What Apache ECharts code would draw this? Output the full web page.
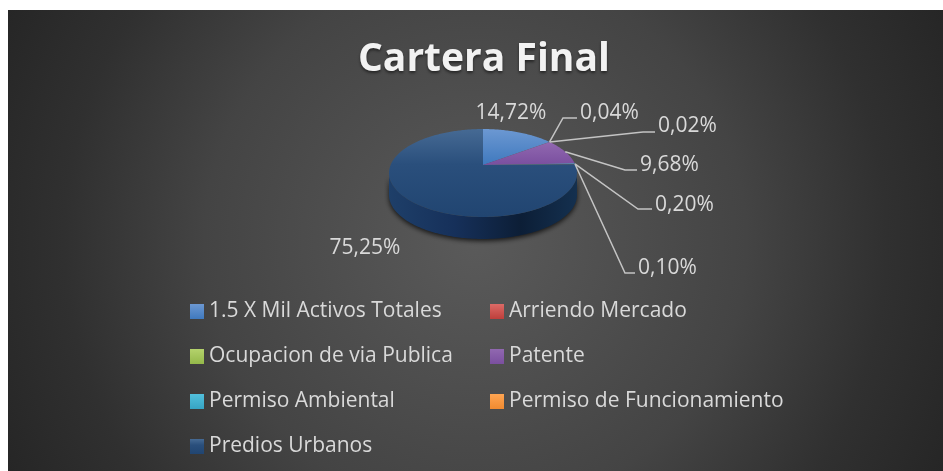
<!DOCTYPE html>
<html>
<head>
<meta charset="utf-8">
<style>
  html, body { margin: 0; padding: 0; background: #fff; }
  #main { width: 943px; height: 471px; }
</style>
<script src="https://cdn.jsdelivr.net/npm/echarts@6/dist/echarts.min.js"></script>
</head>
<body>
<div id="main"></div>
<script>
const names = [
  "1.5 X Mil Activos Totales",
  "Arriendo Mercado",
  "Ocupacion de via Publica",
  "Patente",
  "Permiso Ambiental",
  "Permiso de Funcionamiento",
  "Predios Urbanos",
];
const values = [14.72, 0.04, 0.02, 9.68, 0.2, 0.1, 75.25];

const FONT = "Open Sans";
const LABEL_COLOR = "#d9d9d9";

// pie look: excel style tilted pie, perspective fitted by eye
const pie = { cx: 483, cy: 165, rx: 92.4, ry: 42.5, k: 0.1818, depth: 22 };

// leader line and text placement per slice, no elbow = no leader line
const leaders = [
  { text: [511, 113] },
  { elbow: [563, 118], end: 577, text: [580, 113] },
  { elbow: [643, 132], end: 655, text: [658, 126] },
  { elbow: [625, 170], end: 637, text: [640, 165] },
  { elbow: [638, 209], end: 652, text: [655, 205] },
  { elbow: [625, 273], end: 635, text: [638, 268] },
  { text: [365, 248] },
];

function vGrad(a, b, c) {
  const stops = [{ offset: 0, color: a }, { offset: 1, color: c || b }];
  if (c) stops.splice(1, 0, { offset: 0.4, color: b });
  return new echarts.graphic.LinearGradient(0, 0, 0, 1, stops);
}
const fills = [
  vGrad("#6c98d2", "#3f79be"),
  vGrad("#dc6a66", "#be3f3b"),
  vGrad("#b4d26c", "#94b84a"),
  vGrad("#9168b0", "#7a4f9f"),
  vGrad("#52c0dc", "#36a4c4"),
  vGrad("#ffa552", "#f08a30"),
  vGrad("#466a94", "#2a4f7c", "#214571"),
];
const sideFill = new echarts.graphic.LinearGradient(0, 0, 1, 0, [
  { offset: 0, color: "#1e3f69" },
  { offset: 0.35, color: "#16305a" },
  { offset: 0.7, color: "#0c1e36" },
  { offset: 1, color: "#14304f" },
]);

const total = values.reduce((a, b) => a + b, 0);

// angle is clockwise from 12 o'clock, in degrees
function project(deg, dy) {
  const t = (deg * Math.PI) / 180;
  const u = Math.sin(t);
  const v = Math.cos(t);
  const d = 1 + pie.k * v;
  return [pie.cx + (pie.rx * u) / d, pie.cy - (pie.ry * v) / d + (dy || 0)];
}

function arc(from, to, dy) {
  const pts = [];
  const steps = Math.max(1, Math.ceil(to - from));
  for (let i = 0; i <= steps; i++) {
    pts.push(project(from + ((to - from) * i) / steps, dy));
  }
  return pts;
}

function renderSlice(index) {
  return function (params, api) {
    const value = api.value(0);
    let before = 0;
    for (let i = 0; i < index; i++) before += values[i];
    const from = (before / total) * 360;
    const to = ((before + value) / total) * 360;
    const children = [];

    // only the front part of the rim shows its wall
    const wallFrom = Math.max(from, 100.5);
    const wallTo = Math.min(to, 259.5);
    if (wallTo > wallFrom) {
      children.push({
        type: "polygon",
        z2: 1,
        shape: { points: arc(wallFrom, wallTo, 0).concat(arc(wallFrom, wallTo, pie.depth).reverse()) },
        style: { fill: sideFill, shadowBlur: 5, shadowColor: "rgba(0,0,0,0.75)", shadowOffsetY: 2 },
      });
    }

    children.push({
      type: "polygon",
      z2: 2,
      shape: { points: [[pie.cx, pie.cy]].concat(arc(from, to, 0)) },
      style: { fill: fills[index] },
    });

    const leader = leaders[index];
    if (leader.elbow) {
      const anchor = project((from + to) / 2, 0);
      children.push({
        type: "polyline",
        z2: 3,
        shape: { points: [anchor, leader.elbow, [leader.end, leader.elbow[1]]] },
        style: { fill: null, stroke: "#c4c4c4", lineWidth: 1.5 },
      });
    }
    children.push({
      type: "text",
      z2: 4,
      style: {
        text: value.toFixed(2).replace(".", ",") + "%",
        x: leader.text[0],
        y: leader.text[1],
        fill: LABEL_COLOR,
        font: "21px '" + FONT + "'",
        align: leader.elbow ? "left" : "center",
        verticalAlign: "middle",
      },
    });
    return { type: "group", children: children };
  };
}

const series = names.map((name, i) => ({
  name: name,
  type: "custom",
  coordinateSystem: "none",
  silent: true,
  itemStyle: { color: fills[i] },
  data: [[values[i]]],
  renderItem: renderSlice(i),
}));

function legendColumn(left, list) {
  return {
    orient: "vertical",
    left: left,
    top: 293,
    itemWidth: 14,
    itemHeight: 15,
    itemGap: 18,
    selectedMode: false,
    icon: "rect",
    data: list,
    textStyle: { color: LABEL_COLOR, fontFamily: FONT, fontSize: 21, lineHeight: 27 },
  };
}

const chart = echarts.init(document.getElementById("main"));
chart.setOption({
  animation: false,
  title: {
    text: "Cartera Final",
    left: 353,
    top: 35,
    textStyle: {
      color: "#f2f2f2",
      fontFamily: FONT,
      fontWeight: "bold",
      fontSize: 39,
      textShadowColor: "rgba(0,0,0,0.5)",
      textShadowBlur: 3,
      textShadowOffsetY: 2,
    },
  },
  graphic: [
    {
      type: "rect",
      z: -10,
      silent: true,
      shape: { x: 8, y: 10, width: 935, height: 461 },
      style: {
        fill: new echarts.graphic.RadialGradient(0.5, 0.5, 1.13, [
          { offset: 0, color: "#5a5a5a" },
          { offset: 0.52, color: "#444444" },
          { offset: 0.79, color: "#303030" },
          { offset: 1, color: "#262626" },
        ]),
      },
    },
  ],
  legend: [
    legendColumn(185, [names[0], names[2], names[4], names[6]]),
    legendColumn(485, [names[1], names[3], names[5]]),
  ],
  series: series,
});
</script>
</body>
</html>
